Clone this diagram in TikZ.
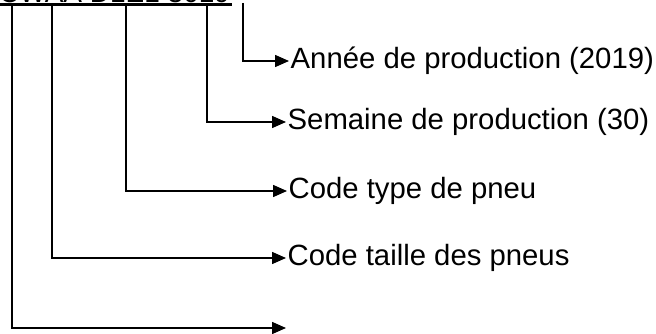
\documentclass[tikz,border=0pt]{standalone}
\usepackage{fontspec}
\setmainfont{Liberation Sans}
\usetikzlibrary{arrows.meta}
\begin{document}
\begin{tikzpicture}[x=1pt,y=-1pt,
  conn/.style={line width=1.6pt,-{Triangle[length=14pt,width=12pt]}},
  lab/.style={anchor=west,inner ysep=0pt,inner xsep=1.5pt,font=\fontsize{29.3}{33}\selectfont},
  codetext/.style={anchor=base west,inner sep=0pt,font=\fontsize{28}{32}\selectfont}]
\useasboundingbox (0,0) rectangle (656,334);
\clip (0,0) rectangle (656,334);
% cut-off code line at the top
\node[codetext] (code) at (-1,2.5) {CWAA D1E1 3019};
\draw[line width=3pt] (0,4.5) -- (232,4.5);
% start points on the code
\coordinate (s1) at (12,5);
\coordinate (s2) at (52,5);
\coordinate (s3) at (126,5);
\coordinate (s4) at (207,5);
\coordinate (s5) at (243,3);
% labels
\node[lab] (year) at (289,61) {Année de production (2019)};
\node[lab] (week) at (286,122) {Semaine de production (30)};
\node[lab] (type) at (287,191) {Code type de pneu};
\node[lab] (size) at (286,258) {Code taille des pneus};
\coordinate (free) at (286,328);
% connectors
\draw[conn] (s5) |- (year.west);
\draw[conn] (s4) |- (week.west);
\draw[conn] (s3) |- (type.west);
\draw[conn] (s2) |- (size.west);
\draw[conn] (s1) |- (free);
\end{tikzpicture}
\end{document}
